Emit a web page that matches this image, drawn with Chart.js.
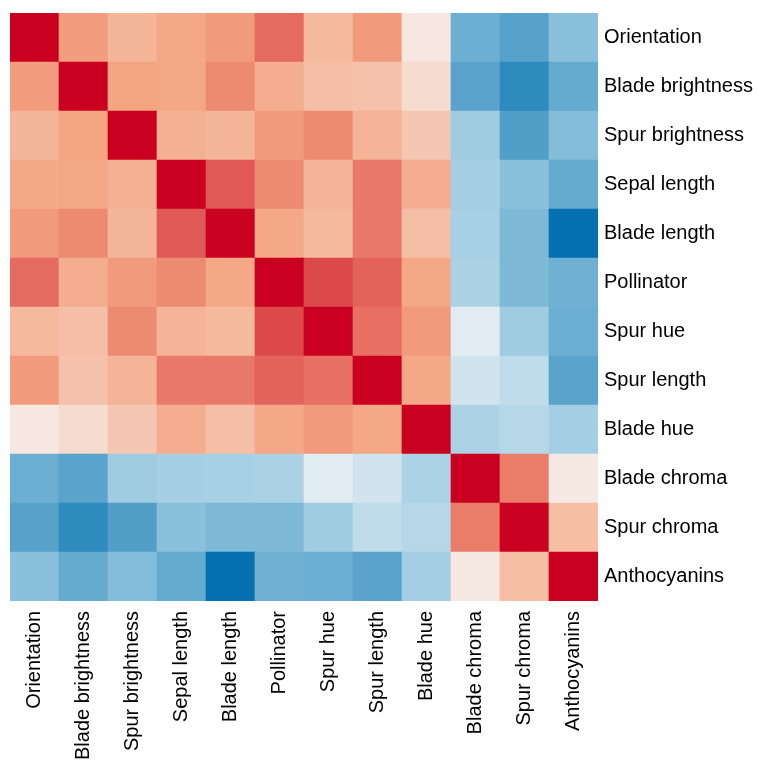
<!DOCTYPE html>
<html>
<head>
<meta charset="utf-8">
<script src="https://cdn.jsdelivr.net/npm/chart.js@4.4.1/dist/chart.umd.min.js"></script>
<style>
html, body { margin: 0; padding: 0; background: #fff; }
#wrap { width: 758px; height: 760px; }
</style>
</head>
<body>
<div id="wrap"><canvas id="heat" width="758" height="760"></canvas></div>
<script>
// traits, same order for rows (top to bottom) and columns (left to right)
var traits = ["Orientation", "Blade brightness", "Spur brightness", "Sepal length", "Blade length",
    "Pollinator", "Spur hue", "Spur length", "Blade hue", "Blade chroma", "Spur chroma", "Anthocyanins"];

// correlation rows
var rowOrientation     = [ 1.00,  0.52,  0.40,  0.48,  0.53,  0.68,  0.38,  0.53,  0.10, -0.63, -0.71, -0.53];
var rowBladeBrightness = [ 0.52,  1.00,  0.50,  0.49,  0.58,  0.45,  0.34,  0.33,  0.17, -0.70, -0.85, -0.66];
var rowSpurBrightness  = [ 0.40,  0.50,  1.00,  0.43,  0.40,  0.53,  0.58,  0.41,  0.30, -0.43, -0.73, -0.55];
var rowSepalLength     = [ 0.48,  0.49,  0.43,  1.00,  0.73,  0.58,  0.41,  0.63,  0.45, -0.40, -0.53, -0.66];
var rowBladeLength     = [ 0.53,  0.58,  0.40,  0.73,  1.00,  0.48,  0.38,  0.63,  0.34, -0.39, -0.57, -1.00];
var rowPollinator      = [ 0.68,  0.45,  0.53,  0.58,  0.48,  1.00,  0.78,  0.70,  0.48, -0.38, -0.57, -0.62];
var rowSpurHue         = [ 0.38,  0.34,  0.58,  0.41,  0.38,  0.78,  1.00,  0.66,  0.53, -0.11, -0.43, -0.63];
var rowSpurLength      = [ 0.53,  0.33,  0.41,  0.63,  0.63,  0.70,  0.66,  1.00,  0.48, -0.19, -0.27, -0.70];
var rowBladeHue        = [ 0.10,  0.17,  0.30,  0.45,  0.34,  0.48,  0.53,  0.48,  1.00, -0.37, -0.32, -0.41];
var rowBladeChroma     = [-0.63, -0.70, -0.43, -0.40, -0.39, -0.38, -0.11, -0.19, -0.37,  1.00,  0.62,  0.09];
var rowSpurChroma      = [-0.71, -0.85, -0.73, -0.53, -0.57, -0.57, -0.43, -0.27, -0.32,  0.62,  1.00,  0.35];
var rowAnthocyanins    = [-0.53, -0.66, -0.55, -0.66, -1.00, -0.62, -0.63, -0.70, -0.41,  0.09,  0.35,  1.00];

var corr = [rowOrientation, rowBladeBrightness, rowSpurBrightness, rowSepalLength, rowBladeLength,
    rowPollinator, rowSpurHue, rowSpurLength, rowBladeHue, rowBladeChroma, rowSpurChroma, rowAnthocyanins];

// RdBu ramp, -1 .. 1
var _Stops = [
    [-1.0, [5, 113, 176]],
    [-0.5, [146, 197, 222]],
    [ 0.0, [247, 247, 247]],
    [ 0.5, [244, 165, 130]],
    [ 1.0, [202, 0, 32]]
];

function getColor(v) {
    for (var i = 0; i < _Stops.length - 1; i++) {
        var a = _Stops[i], b = _Stops[i + 1];
        if (v <= b[0]) {
            var t = (v - a[0]) / (b[0] - a[0]);
            if (t < 0) t = 0;
            var c = [0, 1, 2].map(function (k) { return Math.round(a[1][k] + (b[1][k] - a[1][k]) * t); });
            return "rgb(" + c.join(",") + ")";
        }
    }
    return "rgb(202,0,32)";
}

// stacked bars: dataset 0 sits at the bottom, so rows go in reverse
function getHeatDatasets() {
    var _datasets = [];
    for (var r = traits.length - 1; r >= 0; r--) {
        _datasets.push({
            label: traits[r],
            data: corr[r].map(function () { return 1; }),
            backgroundColor: corr[r].map(getColor),
            borderWidth: 0,
            barPercentage: 1,
            categoryPercentage: 1
        });
    }
    return _datasets;
}

Chart.defaults.font.family = "'Liberation Sans', Arial, Helvetica, sans-serif";
Chart.defaults.color = "#000";

var ctx = document.getElementById("heat");
var HeatChart = new Chart(ctx, {
    type: "bar",
    data: { labels: traits, datasets: getHeatDatasets() },
    options: {
        responsive: false,
        animation: false,
        devicePixelRatio: 1,
        layout: { padding: { left: 10, top: 13, right: 0, bottom: 0 } },
        plugins: { legend: { display: false }, tooltip: { enabled: false } },
        scales: {
            x: {
                stacked: true,
                position: "bottom",
                grid: { display: false, drawTicks: false },
                border: { display: false },
                ticks: { autoSkip: false, minRotation: 90, maxRotation: 90, padding: 10, font: { size: 20 } },
                afterFit: function (scale) {
                    scale.height = 159;
                    scale.paddingLeft = 0;
                    scale.paddingRight = 0;
                }
            },
            y: {
                stacked: true,
                display: false,
                min: 0,
                max: 12
            },
            yr: {
                type: "category",
                labels: traits,
                position: "right",
                offset: true,
                grid: { display: false, drawTicks: false },
                border: { display: false },
                ticks: { padding: 6, font: { size: 20 } },
                afterFit: function (scale) {
                    scale.width = 160;
                    scale.paddingTop = 0;
                    scale.paddingBottom = 0;
                }
            }
        }
    }
});
</script>
</body>
</html>
